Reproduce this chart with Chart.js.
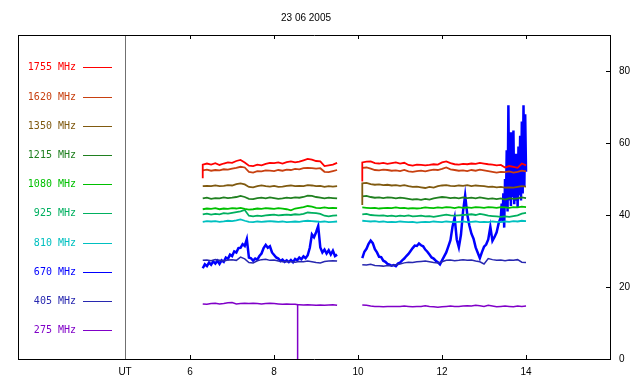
<!DOCTYPE html>
<html><head><meta charset="utf-8">
<script src="https://cdn.jsdelivr.net/npm/chart.js@4/dist/chart.umd.min.js"></script>
<style>html,body{margin:0;padding:0;background:#fff;}canvas{display:block;}</style>
</head><body>
<canvas id="c" width="640" height="384"></canvas>
<script>
const chartTitle = '23 06 2005';
const freqLabels = ['1755 MHz','1620 MHz','1350 MHz','1215 MHz','1080 MHz','925 MHz','810 MHz','670 MHz','405 MHz','275 MHz'];
const xTickValues = [4.45, 6, 8, 10, 12, 14];
const xTickLabels = ['UT', '6', '8', '10', '12', '14'];
const yTickValues = [0, 20, 40, 60, 80];

// shared time axis (UT hours); repeated first time = start sample of each segment
const times = [6.3,6.3,6.4,6.5,6.6,6.7,6.8,6.9,7.0,7.1,7.2,7.3,7.4,7.5,7.6,7.7,7.8,7.9,8.0,8.1,8.2,8.3,8.4,8.5,8.6,8.7,8.8,8.9,9.0,9.1,9.2,9.3,9.4,9.5,
  9.8,
  10.1,10.1,10.2,10.3,10.4,10.5,10.6,10.7,10.8,10.9,11.0,11.1,11.2,11.3,11.4,11.5,11.6,11.7,11.8,11.9,12.0,
  12.1,12.2,12.3,12.4,12.5,12.6,12.7,12.8,12.9,13.0,13.1,13.2,13.3,13.4,13.5,13.6,13.7,13.8,13.9,14.0];

const s1755 = [50.2, 54.0,54.3,54.0,54.4,53.9,54.3,54.6,54.5,55.0,55.3, 54.6,53.7,53.6,54.0,53.8,54.2,54.5,54.4,54.6,54.3, 54.7,54.9,54.6,54.8,55.2,55.6,55.4,55.0,54.9,53.6, 53.8,54.0,54.5,
  null,
  49.3, 54.6,54.8,54.9,54.4,54.3,54.5,54.2,54.4,54.6,54.3, 54.5,53.9,53.7,54.0,53.9,53.8,53.9,54.1,54.0,54.6, 54.9,54.4,54.1,54.0,54.2,54.1,54.3,54.2,54.5,54.3, 54.1,54.0,53.8,53.9,53.2,53.6,53.4,53.1,54.3,53.8];
const s1620 = [52.4, 52.4,52.6,52.3,52.5,52.4,52.7,52.6,52.9,53.1,53.4, 53.2,52.0,51.8,52.2,52.1,52.4,52.3,52.2,52.5,52.3, 52.6,52.5,52.8,52.7,53.0,53.1,53.0,52.9,53.0,52.0, 51.9,52.2,52.5,
  null,
  53.1, 53.1,53.2,52.9,52.5,52.4,52.6,52.5,52.3,52.4,52.2, 52.5,52.1,52.0,52.2,52.3,52.1,52.4,52.6,52.5,52.8, 53.2,52.7,52.5,52.3,52.4,52.2,52.5,52.3,52.6,52.4, 52.2,52.0,51.8,52.0,51.9,52.1,51.8,52.0,52.3,52.1];
const s1350 = [48.0, 48.0,48.1,48.0,48.2,48.0,48.1,48.3,48.2,48.6,48.8, 48.5,47.8,47.7,48.0,48.2,48.0,47.9,48.1,47.8,47.9, 48.1,48.2,48.0,48.1,48.0,48.3,48.2,48.0,48.1,47.8, 48.0,47.9,48.0,
  null,
  42.8, 48.8,48.9,48.6,48.4,48.5,48.3,48.4,48.2,48.3,48.1, 48.3,48.0,47.8,47.9,47.7,47.5,47.8,47.6,48.0,48.2, 48.3,48.1,48.0,48.2,48.1,48.3,48.0,48.2,48.1,48.0, 47.8,47.9,47.7,47.8,47.6,47.7,47.6,47.8,48.0,47.9];
const s1215 = [44.6, 44.6,44.8,44.5,44.7,44.6,44.9,44.7,44.8,45.0,45.3, 45.0,44.5,44.4,44.7,44.8,44.6,44.9,44.7,44.5,44.6, 44.8,44.7,44.9,44.8,45.0,45.4,45.3,45.0,44.8,44.6, 44.8,44.7,44.6,
  null,
  45.2, 45.2,45.3,45.0,44.8,44.9,44.7,44.9,44.8,44.6,44.8, 44.7,44.5,44.3,44.4,44.2,44.5,44.3,44.6,44.8,45.0, 44.9,44.7,44.8,44.6,44.9,44.7,44.8,44.6,44.9,44.7, 44.5,44.6,44.4,44.6,44.3,44.7,44.5,44.6,44.9,44.7];
const s1080 = [41.6, 41.6,41.8,41.7,41.9,41.6,41.8,41.7,41.9,41.8,42.0, 41.7,41.5,41.6,41.8,41.7,41.9,41.8,41.7,41.9,41.8, 41.6,41.3,41.8,42.0,42.2,42.5,42.3,42.0,41.9,42.1, 41.9,42.0,41.9,
  null,
  42.1, 42.1,42.0,41.9,42.0,41.8,41.9,42.0,41.9,42.1,41.9, 42.0,41.8,41.9,41.8,41.9,42.1,42.0,41.9,42.1,42.0, 42.2,42.1,41.9,42.2,42.0,42.1,42.0,42.2,42.1,42.0, 42.2,42.1,42.0,42.2,42.1,42.0,42.2,42.1,42.3,42.2];
const s925 = [40.2, 40.2,40.4,40.1,40.3,40.2,40.5,40.4,40.6,40.8,41.0, 41.4,39.8,39.6,39.8,39.7,39.9,40.0,40.1,39.9,40.0, 40.1,40.0,40.2,40.1,40.3,40.7,40.6,40.5,40.3,39.8, 39.6,39.8,39.9,
  null,
  40.2, 40.2,40.3,40.0,39.9,39.8,39.9,39.7,39.8,39.6,39.8, 39.7,39.9,39.6,39.7,39.8,39.6,39.7,39.5,39.7,39.9, 40.1,39.9,39.8,39.9,40.0,40.1,40.2,40.0,40.3,40.1, 39.8,39.7,39.6,39.5,39.6,39.5,39.7,39.9,40.4,40.6];
const s810 = [38.1, 38.1,38.3,38.2,38.3,38.1,38.2,38.4,38.3,38.5,38.8, 38.4,38.1,38.0,38.2,38.1,38.2,38.3,38.2,38.1,38.2, 38.0,38.1,38.2,38.1,38.3,38.4,38.3,38.2,38.1,38.2, 38.0,38.1,38.2,
  null,
  38.4, 38.4,38.3,38.2,38.3,38.1,38.2,38.0,38.1,38.0,38.2, 38.1,38.0,38.1,37.9,38.0,38.1,38.0,38.2,38.1,38.0, 38.2,38.1,38.0,38.1,38.2,38.0,38.1,38.2,38.0,38.1, 38.0,38.2,38.1,38.0,38.2,38.1,38.3,38.2,38.4,38.3];
const s405 = [27.4, 27.4,27.5,27.3,27.6,27.4,27.2,27.5,27.6,27.4,28.3, 27.8,26.8,26.7,27.3,27.6,27.7,27.4,27.5,27.2,27.0, 27.1,27.0,26.9,27.1,27.0,27.2,27.0,26.8,26.7,27.1, 27.2,27.3,27.2,
  null,
  26.2, 26.2,26.1,26.3,26.0,25.9,25.8,26.0,25.9,26.2,26.4, 26.7,26.9,26.8,27.0,27.1,27.2,27.0,26.8,26.7,27.0, 27.4,27.5,27.3,27.4,27.6,27.4,27.5,27.2,27.0,26.4, 27.9,27.6,27.4,27.5,27.3,27.5,27.4,27.6,26.9,26.8];

// 275 MHz has its own time list (single dropout sample near 8.56 UT)
const t275 = [6.3,6.4,6.5,6.6,6.7,6.8,6.9,7.0,7.1,7.2,7.3,7.4,7.5,7.6,7.7,7.8,7.9,8.0,8.1,8.2,8.3,8.4,8.5,
  8.56,8.56,8.56,
  8.6,8.7,8.8,8.9,9.0,9.1,9.2,9.3,9.4,9.5,
  9.8,
  10.1,10.2,10.3,10.4,10.5,10.6,10.7,10.8,10.9,11.0,11.1,11.2,11.3,11.4,11.5,11.6,11.7,11.8,11.9,12.0,
  12.1,12.2,12.3,12.4,12.5,12.6,12.7,12.8,12.9,13.0,13.1,13.2,13.3,13.4,13.5,13.6,13.7,13.8,13.9,14.0];
const s275 = [15.3,15.2,15.4,15.5,15.3,15.4,15.6,15.7,15.3,15.4, 15.5,15.4,15.5,15.4,15.3,15.4,15.5,15.4,15.3,15.2, 15.3,15.2,15.2,
  15.1,0,15.1,
  15.1,15.0,15.1,15.0,14.9,15.0,14.9,15.0,15.1,14.9,
  null,
  15.0,14.9,14.7,14.6,14.6,14.5,14.6,14.6,14.6,14.6, 14.7,14.6,14.5,14.6,14.6,14.8,14.6,14.5,14.4,14.5,
  14.6,14.7,14.6,14.6,14.7,14.8,14.7,14.9,14.8,14.6, 14.9,14.7,14.5,14.6,14.7,14.6,14.5,14.7,14.6,14.7];

// 670 MHz sampled more finely
const t670 = [6.30,6.35,6.40,6.45,6.50,6.55,6.60,6.65,6.70,6.75,
  6.80,6.85,6.90,6.95,7.00,7.05,7.10,7.15,7.20,7.25,
  7.30,7.35,7.40,7.45,7.50,7.55,7.60,7.65,7.70,7.75,
  7.80,7.85,7.90,7.95,8.00,8.05,8.10,8.15,8.20,8.25,
  8.30,8.35,8.40,8.45,8.50,8.55,8.60,8.65,8.70,8.75,
  8.80,8.85,8.90,8.95,9.00,9.05,9.10,9.15,9.20,9.25,
  9.30,9.35,9.40,9.45,9.50,
  9.80,
  10.10,10.15,10.20,10.25,10.30,10.35,10.40,10.45,10.50,10.55,
  10.60,10.65,10.70,10.75,10.80,10.85,10.90,10.95,11.00,11.05,
  11.10,11.15,11.20,11.25,11.30,11.35,11.40,11.45,11.50,11.55,
  11.60,11.65,11.70,11.75,11.80,11.85,11.90,11.95,12.00,12.05,
  12.10,12.15,12.20,12.25,12.30,12.35,12.40,12.45,12.50,12.55,
  12.60,12.65,12.70,12.75,12.80,12.85,12.90,12.95,13.00,13.05,
  13.10,13.15,13.20,13.25,13.30,13.35,13.40,
  13.42,13.44,13.46,13.48,13.50,13.52,13.54,13.56,13.58,13.60,
  13.62,13.64,13.66,13.68,13.70,13.72,13.74,13.76,13.78,13.80,
  13.82,13.84,13.86,13.88,13.90,13.92,13.94,13.96,13.98,14.00];
const s670 = [25.2,26.3,25.8,26.8,26.2,27.1,26.5,27.3,26.4,27.4,
  27.0,28.2,27.8,29.0,28.6,29.9,29.6,30.8,30.9,31.9,
  31.4,33.3,28.2,28.0,27.3,27.9,27.6,28.6,29.3,30.8,
  31.7,30.9,31.3,29.6,28.9,28.2,27.9,27.2,27.6,27.0,
  27.4,26.9,27.5,26.9,27.8,27.4,28.2,27.7,28.5,28.0,
  28.8,30.9,34.6,33.8,35.2,36.9,31.0,29.6,30.4,29.3,
  30.2,29.0,30.1,28.6,29.0,
  null,
  28.0,29.8,30.6,32.0,32.9,32.2,30.5,29.6,28.4,28.3,
  27.3,27.0,26.4,26.2,25.9,26.1,25.8,26.5,26.8,27.4,
  27.9,28.6,29.2,30.0,30.8,31.5,31.4,32.1,31.6,31.3,
  30.4,29.8,29.0,28.2,27.9,27.3,26.9,26.3,27.4,28.5,
  29.6,31.3,33.0,36.8,39.3,33.2,31.0,34.5,41.0,45.5,
  40.2,37.1,34.8,33.4,31.0,29.5,28.0,29.7,31.2,31.8,
  33.2,36.7,32.8,33.9,35.2,37.8,39.4,
  43.2,38.0,46.0,36.5,50.0,42.0,58.0,41.0,70.5,44.0,
  63.0,42.5,56.0,45.0,63.5,43.0,57.0,44.0,54.0,42.0,
  59.0,45.5,62.0,44.0,66.0,46.0,70.5,48.0,68.0,52.0];

const seriesTimes = [times, times, times, times, times, times, times, t670, times, t275];
const seriesValues = [s1755, s1620, s1350, s1215, s1080, s925, s810, s670, s405, s275];
const seriesColors = ['#ff0000','#c84010','#805a10','#208020','#00c000','#00b060','#00c0c0','#0000ff','#2828b0','#8000c8'];
const seriesWidths = [1.8, 1.8, 1.8, 1.8, 1.8, 1.8, 1.8, 2.5, 1.5, 1.5];
const seriesOrder  = [1, 2, 3, 4, 5, 6, 7, 10, 8, 9];

const toPts = (ts, vs) => ts.map((t, i) => ({ x: t, y: vs[i] }));

const datasets = freqLabels.map((lab, i) => ({
  label: lab,
  data: toPts(seriesTimes[i], seriesValues[i]),
  borderColor: seriesColors[i],
  backgroundColor: seriesColors[i],
  borderWidth: seriesWidths[i],
  pointRadius: 0,
  tension: 0,
  spanGaps: false,
  fill: false,
  order: seriesOrder[i]
}));

const tickFont = { family: 'Liberation Sans', size: 10 };

const overlay = {
  id: 'overlay',
  afterDraw(chart) {
    const { ctx, chartArea } = chart;
    ctx.save();
    ctx.font = '10px "Liberation Sans"';
    ctx.fillStyle = '#000';
    ctx.textAlign = 'center';
    ctx.textBaseline = 'middle';
    ctx.fillText(chartTitle, 306, 18);
    ctx.font = '10px "DejaVu Sans Mono"';
    chart.data.datasets.forEach((ds, i) => {
      const y = Math.round(chartArea.top + 32.3 + i * 29.2) + 0.5;
      ctx.fillStyle = ds.borderColor;
      ctx.textAlign = 'right';
      ctx.fillText(ds.label, chartArea.left + 58, y);
      ctx.strokeStyle = ds.borderColor;
      ctx.lineWidth = 1;
      ctx.beginPath();
      ctx.moveTo(chartArea.left + 65, y);
      ctx.lineTo(chartArea.left + 94, y);
      ctx.stroke();
    });
    ctx.restore();
  }
};

new Chart(document.getElementById('c'), {
  type: 'line',
  data: { datasets },
  plugins: [overlay],
  options: {
    responsive: false,
    animation: false,
    devicePixelRatio: 1,
    layout: { padding: 0 },
    plugins: { legend: { display: false }, title: { display: false }, tooltip: { enabled: false } },
    scales: {
      x: {
        type: 'linear', position: 'bottom', min: 1.9, max: 16,
        afterBuildTicks: s => { s.ticks = xTickValues.map(v => ({ value: v })); },
        ticks: { autoSkip: false, maxRotation: 0, minRotation: 0, padding: 11, color: '#000', font: tickFont,
                 callback: (v, i) => xTickLabels[i] },
        grid: {
          drawOnChartArea: true, drawTicks: true, tickLength: -4, lineWidth: 1,
          color: c => (c.tick && c.tick.value === 4.45) ? '#707070' : 'rgba(0,0,0,0)',
          tickColor: c => (c.tick && c.tick.value === 4.45) ? 'rgba(0,0,0,0)' : '#000'
        },
        border: { display: true, color: '#000', width: 1 },
        afterFit: s => { s.height = 25; }
      },
      x2: {
        type: 'linear', position: 'top', min: 1.9, max: 16,
        afterBuildTicks: s => { s.ticks = xTickValues.slice(1).map(v => ({ value: v })); },
        ticks: { display: false },
        grid: { drawOnChartArea: false, drawTicks: true, tickLength: -4, color: '#000', tickColor: '#000' },
        border: { display: true, color: '#000', width: 1 },
        afterFit: s => { s.height = 35; }
      },
      y: {
        type: 'linear', position: 'right', min: 0, max: 90,
        afterBuildTicks: s => { s.ticks = yTickValues.map(v => ({ value: v })); },
        ticks: { padding: 13, color: '#000', font: tickFont },
        grid: { drawOnChartArea: false, drawTicks: true, tickLength: -4, color: '#000', tickColor: '#000' },
        border: { display: true, color: '#000', width: 1 },
        afterFit: s => { s.width = 30; }
      },
      yl: {
        type: 'linear', position: 'left', min: 0, max: 90,
        ticks: { display: false },
        grid: { display: false, drawTicks: false },
        border: { display: true, color: '#000', width: 1 },
        afterFit: s => { s.width = 18; }
      }
    }
  }
});
</script>
</body></html>
